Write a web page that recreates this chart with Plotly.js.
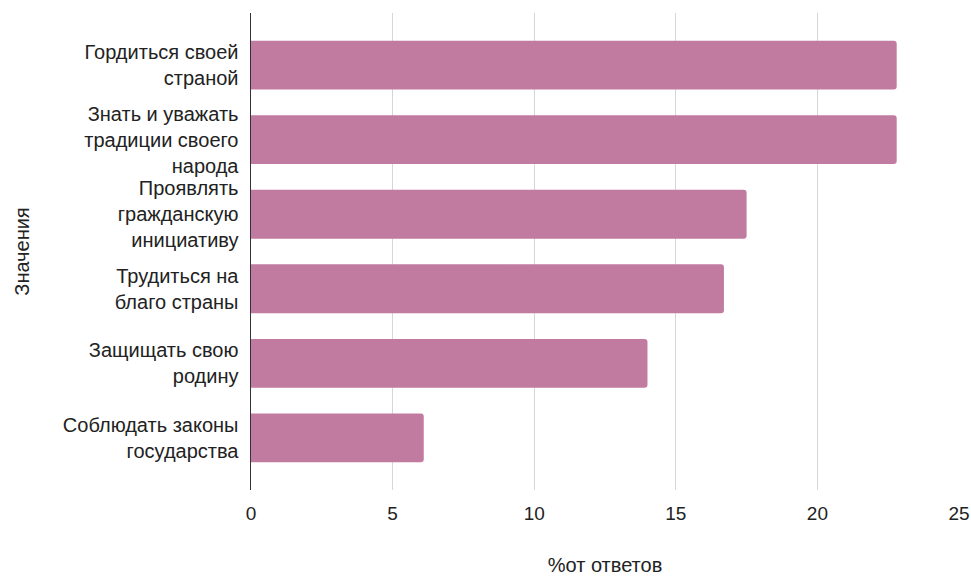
<!DOCTYPE html>
<html><head><meta charset="utf-8">
<script src="https://cdn.plot.ly/plotly-3.0.1.min.js"></script>
<style>body{margin:0;background:#fff}#c{width:971px;height:577px}</style>
</head><body><div id="c"></div>
<script>
const categories = [
  "Гордиться своей<br>страной",
  "Знать и уважать<br>традиции своего<br>народа",
  "Проявлять<br>гражданскую<br>инициативу",
  "Трудиться на<br>благо страны",
  "Защищать свою<br>родину",
  "Соблюдать законы<br>государства"
];
const values = [22.8, 22.8, 17.5, 16.7, 14.0, 6.1];
const xTicks = [0, 5, 10, 15, 20, 25];

Plotly.newPlot('c', [{
  type: 'bar', orientation: 'h',
  y: categories, x: values,
  marker: {color: '#c27ba0', cornerradius: 3},
  hoverinfo: 'none'
}], {
  width: 971, height: 577,
  margin: {l: 251, r: 12, t: 13, b: 87},
  paper_bgcolor: '#fff', plot_bgcolor: '#fff',
  font: {family: 'Liberation Sans, Arial, sans-serif', size: 20, color: '#222'},
  bargap: 0.345,
  showlegend: false,
  xaxis: {
    range: [0, 25], tickvals: xTicks, ticktext: xTicks.map(String),
    showgrid: true, gridcolor: '#d6d6d6', gridwidth: 1,
    zeroline: false, showline: false, ticks: '',
    ticklabelstandoff: 10,
    tickfont: {size: 19, color: '#222'},
    title: {text: '%от ответов', font: {size: 20, color: '#222'}, standoff: 34}
  },
  yaxis: {
    type: 'category', autorange: false, range: [5.7, -0.7],
    showgrid: false, zeroline: false,
    showline: true, linecolor: '#333', linewidth: 1.5,
    ticks: '', ticklabelstandoff: 7,
    tickfont: {size: 20, color: '#222'},
    title: {text: 'Значения', font: {size: 20, color: '#222'}, standoff: 28}
  }
}, {displayModeBar: false, staticPlot: true});
</script></body></html>
